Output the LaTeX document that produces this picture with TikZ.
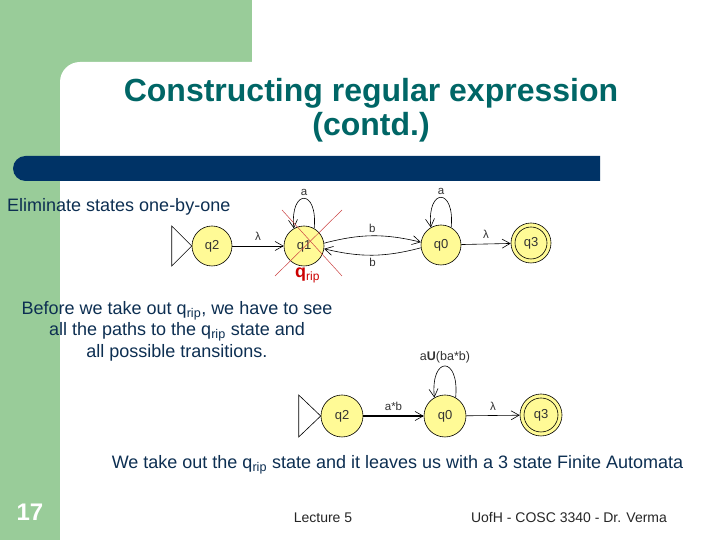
\documentclass[tikz,border=0pt]{standalone}
\usepackage{fontspec}
\setmainfont{Liberation Sans}
\usetikzlibrary{arrows.meta}
\definecolor{sgreen}{HTML}{99CC99}
\definecolor{navy}{HTML}{003366}
\definecolor{tealt}{HTML}{006666}
\definecolor{txtblue}{HTML}{0D2F52}
\definecolor{stfill}{HTML}{FFFA96}
\definecolor{ripred}{HTML}{CC0000}
\definecolor{xred}{HTML}{CC4444}
\begin{document}
\begin{tikzpicture}[x=1pt,y=1pt,
 st/.style={circle,draw=black,fill=stfill,minimum size=40pt,inner sep=0pt,font=\fontsize{13}{13}\selectfont,text=black!80,line width=0.6pt},
 tr/.style={-{Straight Barb[length=8pt,width=9pt,line width=0.6pt]},line width=0.6pt},
 lab/.style={font=\fontsize{11.5}{11.5}\selectfont,text=black!80,inner sep=0pt},
 body/.style={font=\fontsize{18}{21.6}\selectfont,text=txtblue,align=center},
 xline/.style={draw=xred,line width=0.5pt}
]
\useasboundingbox (0,0) rectangle (720,540);
\fill[white] (0,0) rectangle (720,540);
\fill[sgreen] (0,0) rectangle (252,540);
\fill[white] (60,0) -- (60,458) arc[start angle=180,end angle=90,radius=20] -- (720,478) -- (720,0) -- cycle;
\fill[navy] (600,359) -- (25.5,359) arc[start angle=270,end angle=90,radius=12.5] -- (600,384) -- cycle;
\node[font=\fontsize{32}{34}\selectfont\bfseries,text=tealt,align=center] (title) at (371,430) {Constructing regular expression\\(contd.)};
\node[anchor=west,font=\fontsize{18}{18}\selectfont,text=txtblue,inner sep=0pt] (elim) at (7,333) {Eliminate states one-by-one};
\node[body] (para) at (177,209) {Before we take out q\textsubscript{rip}, we have to see\\all the paths to the q\textsubscript{rip} state and\\all possible transitions.};

% automaton 1
\node[st] (a2) at (212,294) {q2};
\node[st] (a1) at (304,294) {q1};
\node[st] (a0) at (441,295) {q0};
\node[st] (a3) at (531,297) {q3};
\draw[line width=0.6pt] (a3.center) circle (16);
\draw[line width=0.6pt] (a2.west) -- ++(-20,20) -- ++(0,-40) -- cycle;
\draw[tr] (a2) -- node[lab,above=5pt]{λ} (a1);
\draw[tr] (a1.60) .. controls +(4,40) and +(-4,40) .. node[lab,above=3pt]{a} (a1.120);
\draw[tr] (a1.8) to[bend left=14] node[lab,above=3pt]{b} (a0.172);
\draw[tr] (a0.188) to[bend left=14] node[lab,below=3pt]{b} (a1.352);
\draw[tr] (a0.60) .. controls +(4,40) and +(-4,40) .. node[lab,above=3pt]{a} (a0.120);
\draw[tr] (a0) -- node[lab,above=5pt]{λ} (a3);
\path[xline] (275,264) -- (342,330);
\path[xline] (282,330) -- (342,264);
\node[anchor=base west,inner sep=0pt,text=ripred] (qrip) at (295,262) {\fontsize{18}{18}\selectfont\bfseries q\raisebox{-3pt}{\fontsize{12}{12}\mdseries\selectfont rip}};

% automaton 2
\node[st,minimum size=42pt] (b2) at (342,124) {q2};
\node[st,minimum size=42pt] (b0) at (445,124) {q0};
\node[st,minimum size=42pt] (b3) at (541,125) {q3};
\draw[line width=0.6pt] (b3.center) circle (17);
\draw[line width=0.6pt] (b2.west) -- ++(-22,21) -- ++(0,-42) -- cycle;
\draw[tr,line width=1.6pt] (b2) -- node[lab,above=5pt]{a*b} (b0);
\draw[tr] (b0) -- node[lab,above=5pt]{λ} (b3);
\draw[tr] (b0.60) .. controls +(4,42) and +(-4,42) .. node[lab,above=3pt,font=\fontsize{12.5}{12.5}\selectfont]{a\textbf{U}(ba*b)} (b0.120);

% bottom texts
\node[font=\fontsize{18}{18}\selectfont,text=txtblue] (take) at (397.5,75) {We take out the q\textsubscript{rip} state and it leaves us with a 3 state Finite Automata};
\node[font=\fontsize{24}{24}\selectfont\bfseries,text=white] (num) at (30,28) {17};
\node[font=\fontsize{14}{14}\selectfont,text=black!85] (lec) at (323,22) {Lecture 5};
\node[font=\fontsize{14}{14}\selectfont,text=black!85] (auth) at (569,22) {UofH - COSC 3340 - Dr. Verma};
\end{tikzpicture}
\end{document}
